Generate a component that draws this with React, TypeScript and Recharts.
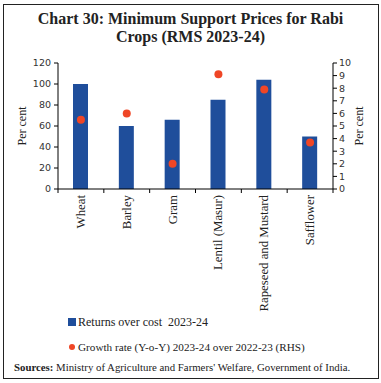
import React from 'react';
import { ComposedChart, Bar, Line, XAxis, YAxis, Label } from 'recharts';

const categories = ['Wheat', 'Barley', 'Gram', 'Lentil (Masur)', 'Rapeseed and Mustard', 'Safflower'];
const returnsOverCost = [100, 60, 66, 85, 104, 50];
const growthRate = [5.5, 6.0, 2.0, 9.1, 7.9, 3.7];
const leftTicks = [0, 20, 40, 60, 80, 100, 120];
const rightTicks = [0, 1, 2, 3, 4, 5, 6, 7, 8, 9, 10];

const data = categories.map((c, i) => ({ name: c, returns: returnsOverCost[i], growth: growthRate[i] }));

const BLUE = '#1F4E9B';
const RED = '#EF4626';
const SERIF = '"Liberation Serif", "Times New Roman", serif';
const SANS = '"DejaVu Sans", Verdana, sans-serif';

const CategoryTick = (props: any) => {
  const { x, y, payload, index } = props;
  const axisY = y - 7;
  const off = payload.offset || 0;
  return (
    <g>
      {index === 0 && <line x1={x - off} x2={x - off} y1={axisY} y2={axisY + 4} stroke="#000" strokeWidth={1} />}
      <line x1={x + off} x2={x + off} y1={axisY} y2={axisY + 4} stroke="#000" strokeWidth={1} />
      <text
        x={x}
        y={axisY + 6}
        transform={`rotate(-90, ${x}, ${axisY + 6})`}
        textAnchor="end"
        dominantBaseline="central"
        fontFamily={SERIF}
        fontSize={12.8}
        fill="#222"
      >
        {payload.value}
      </text>
    </g>
  );
};

const AxisTitle = (side: 'left' | 'right') => (props: any) => {
  const vb = props.viewBox || {};
  const cx = side === 'left' ? vb.x + 22 : vb.x + 26;
  const cy = vb.y + vb.height / 2;
  return (
    <text
      x={cx}
      y={cy}
      transform={`rotate(-90, ${cx}, ${cy})`}
      textAnchor="middle"
      dominantBaseline="central"
      fontFamily={SERIF}
      fontSize={12}
      fill="#222"
    >
      Per cent
    </text>
  );
};

export default function App() {
  return (
    <div style={{ position: 'absolute', left: 0, top: 0, width: 381, height: 383, background: '#fff' }}>
      <div
        style={{
          position: 'absolute',
          left: 3,
          top: 4,
          width: 374,
          height: 373,
          border: '1px solid #222',
        }}
      />
      <div
        style={{
          position: 'absolute',
          left: 0,
          top: 10,
          width: 381,
          textAlign: 'center',
          fontFamily: SERIF,
          fontWeight: 'bold',
          fontSize: 16,
          lineHeight: '18px',
          color: '#222',
        }}
      >
        Chart 30: Minimum Support Prices for Rabi
        <br />
        Crops (RMS 2023-24)
      </div>
      <div style={{ position: 'absolute', left: 0, top: 0 }}>
        <ComposedChart
          width={381}
          height={383}
          data={data}
          margin={{ top: 63, right: 0, left: 0, bottom: 0 }}
        >
          <XAxis
            dataKey="name"
            height={194}
            interval={0}
            tickLine={false}
            tickSize={5}
            tickMargin={2}
            axisLine={{ stroke: '#000' }}
            tick={<CategoryTick />}
          />
          <YAxis
            yAxisId="left"
            width={58}
            domain={[0, 120]}
            ticks={leftTicks}
            interval={0}
            tickSize={4}
            tickMargin={3}
            axisLine={{ stroke: '#000' }}
            tickLine={{ stroke: '#000' }}
            tick={{ fontFamily: SANS, fontSize: 9.5, fill: '#333' }}
          >
            <Label content={AxisTitle('left')} />
          </YAxis>
          <YAxis
            yAxisId="right"
            orientation="right"
            width={48}
            domain={[0, 10]}
            ticks={rightTicks}
            interval={0}
            tickSize={4}
            tickMargin={2}
            axisLine={{ stroke: '#000' }}
            tickLine={{ stroke: '#000' }}
            tick={{ fontFamily: SANS, fontSize: 9.5, fill: '#333' }}
          >
            <Label content={AxisTitle('right')} />
          </YAxis>
          <Bar yAxisId="left" dataKey="returns" fill={BLUE} barSize={15} isAnimationActive={false} />
          <Line
            yAxisId="right"
            dataKey="growth"
            stroke="none"
            dot={{ r: 4, fill: RED, stroke: 'none' }}
            activeDot={false}
            isAnimationActive={false}
          />
        </ComposedChart>
      </div>
      <div style={{ position: 'absolute', left: 68, top: 314, fontFamily: SERIF, fontSize: 12, color: '#222' }}>
        <div style={{ display: 'flex', alignItems: 'center', height: 16 }}>
          <span style={{ display: 'inline-block', width: 8, height: 8, background: BLUE, marginRight: 2 }} />
          <span style={{ whiteSpace: 'pre' }}>Returns over cost  2023-24</span>
        </div>
        <div style={{ display: 'flex', alignItems: 'center', height: 16, marginTop: 9 }}>
          <span
            style={{ display: 'inline-block', width: 6, height: 6, borderRadius: 3, background: RED, marginLeft: 1, marginRight: 3 }}
          />
          <span style={{ fontSize: 11.2, whiteSpace: 'nowrap' }}>Growth rate (Y-o-Y) 2023-24 over 2022-23 (RHS)</span>
        </div>
      </div>
      <div
        style={{
          position: 'absolute',
          left: 14,
          top: 361,
          fontFamily: SERIF,
          fontSize: 10.8,
          color: '#222',
          whiteSpace: 'nowrap',
        }}
      >
        <b>Sources:</b> Ministry of Agriculture and Farmers' Welfare, Government of India.
      </div>
    </div>
  );
}
